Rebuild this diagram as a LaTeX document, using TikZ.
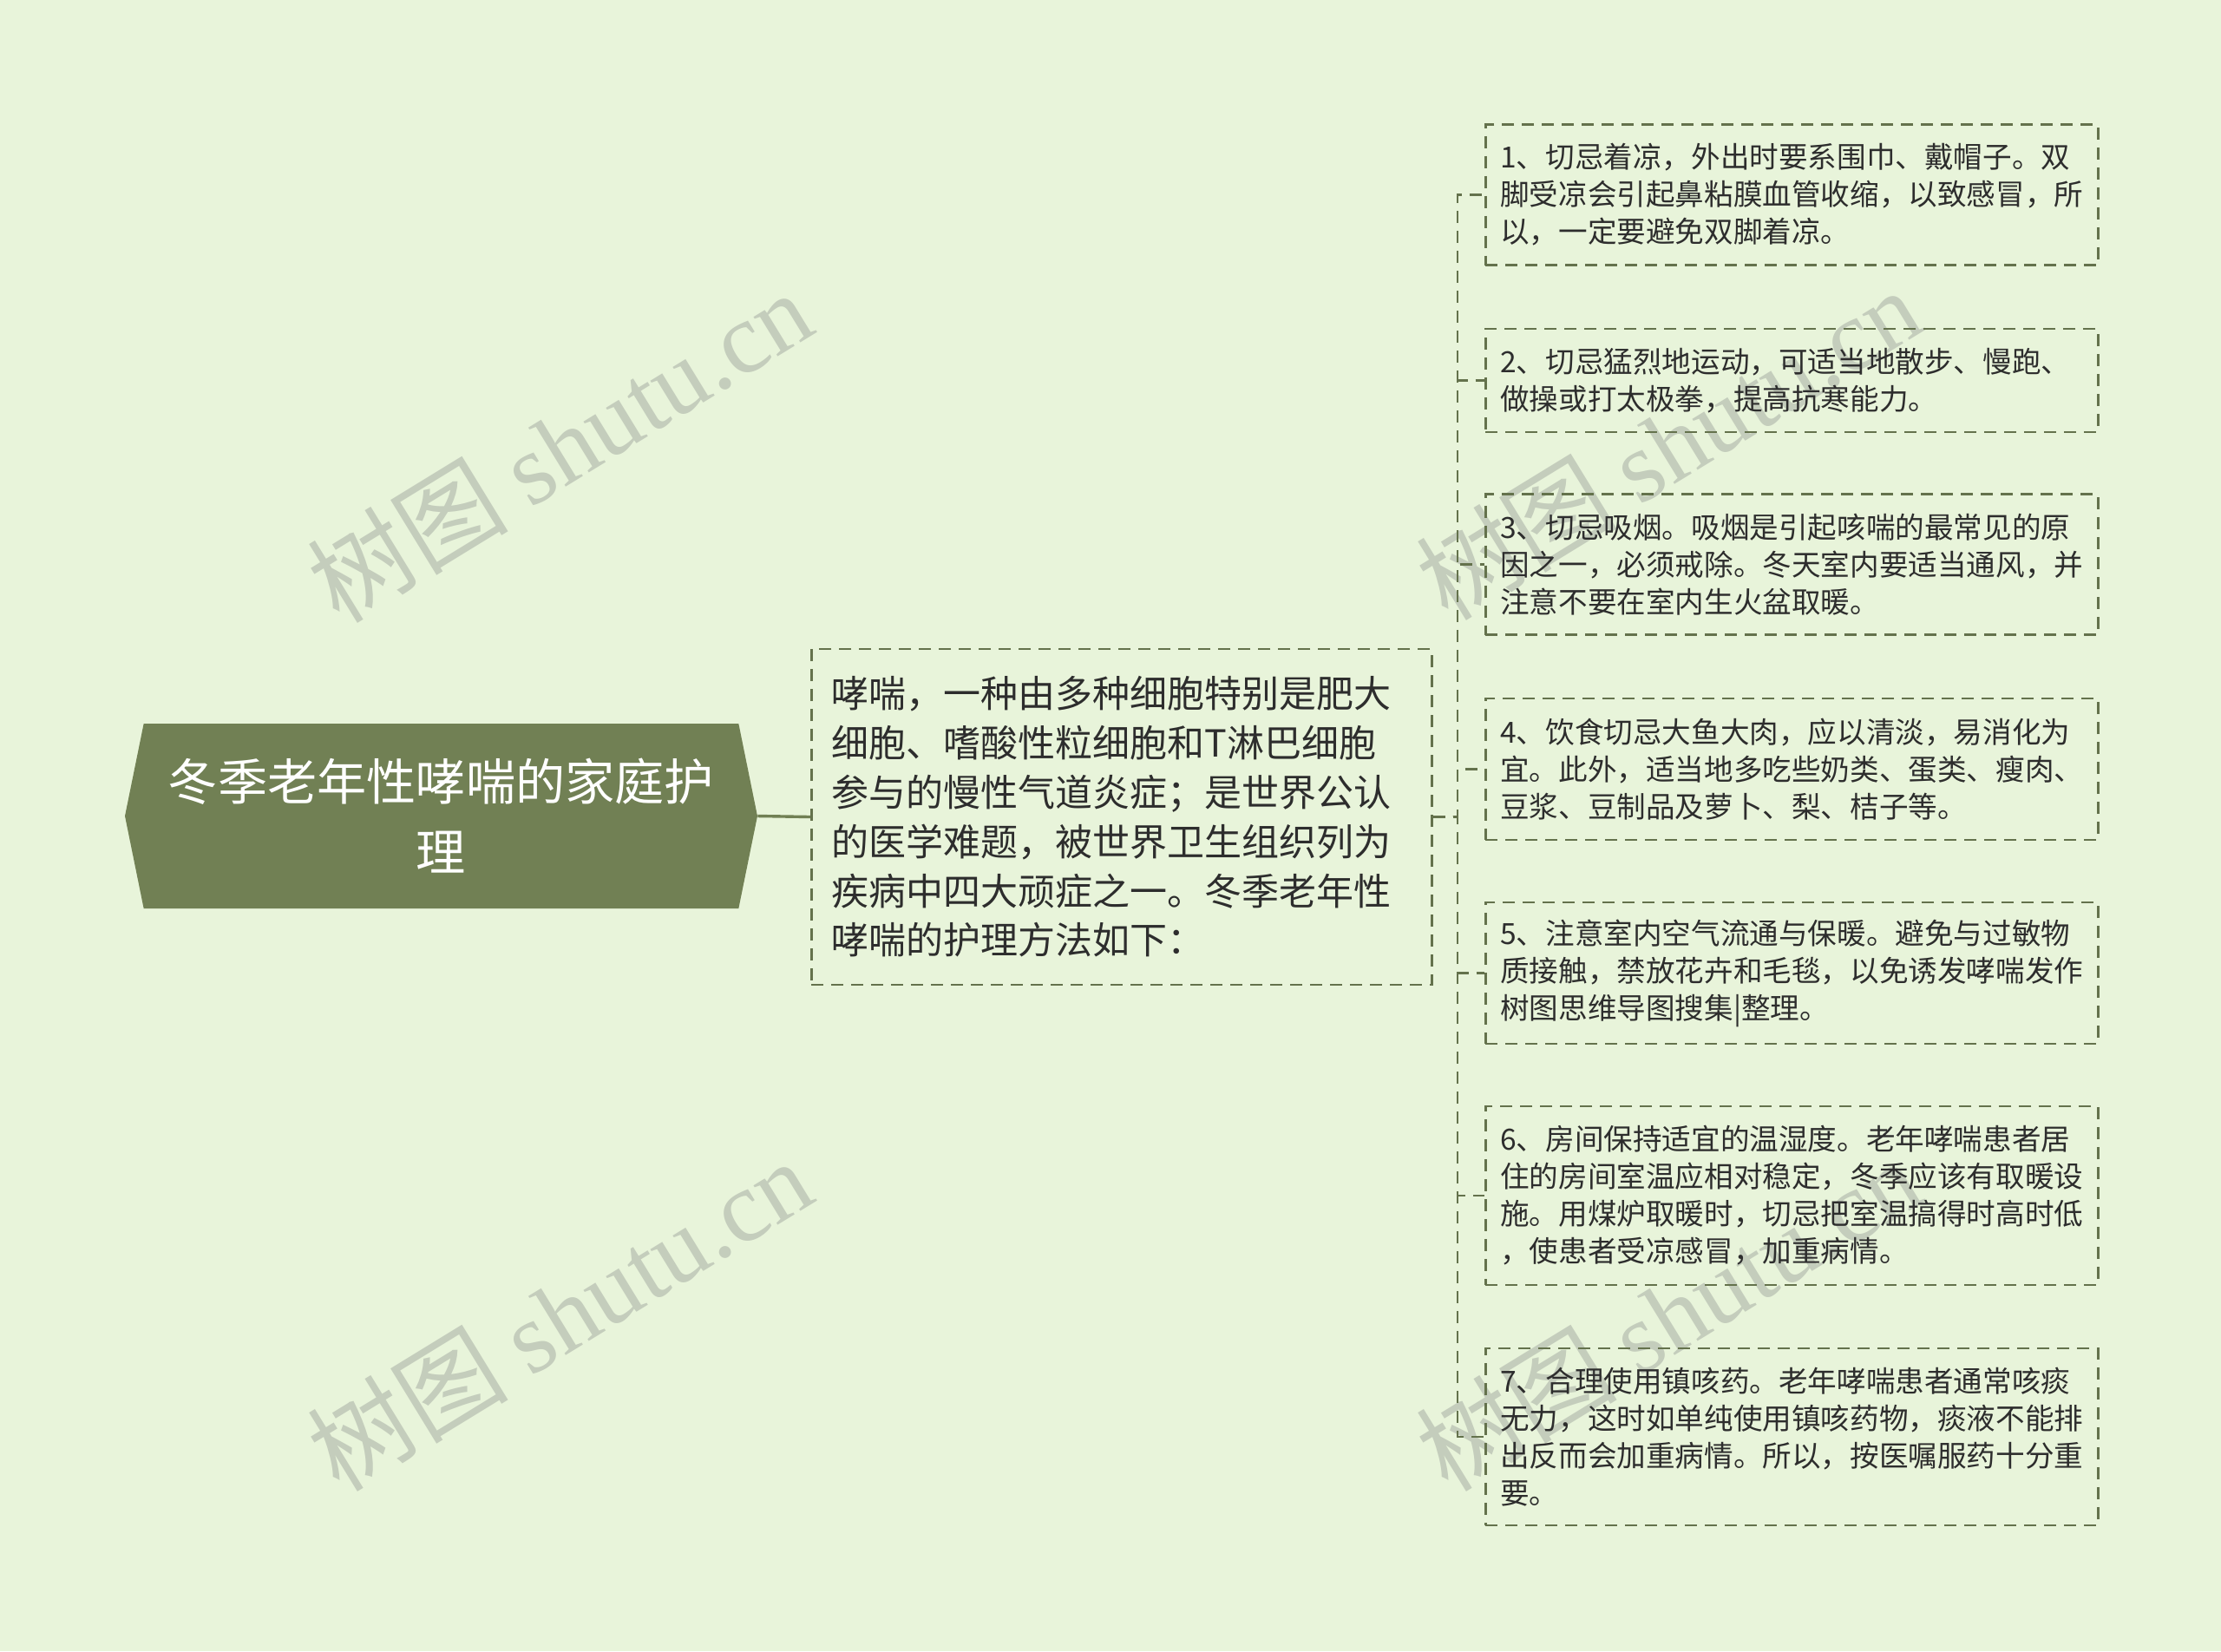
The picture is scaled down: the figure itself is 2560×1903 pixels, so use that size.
\documentclass[tikz,border=0pt]{standalone}
\usepackage{fontspec}
\newfontfamily\cjk{Noto Sans CJK SC}
\newfontfamily\wmserif{Liberation Serif}
\usetikzlibrary{shapes.symbols}
\definecolor{bgcol}{RGB}{232,244,218}
\definecolor{rootcol}{RGB}{113,128,84}
\definecolor{linecol}{RGB}{100,114,76}
\definecolor{txtcol}{RGB}{45,45,45}
\definecolor{markcol}{RGB}{196,205,188}

\begin{document}
\begin{tikzpicture}[x=0.5pt, y=-0.5pt,
  rootnode/.style={shape=signal, signal to=west and east, signal pointer angle=157,
    fill=rootcol, text=white, align=center, minimum width=364.5pt, minimum height=106.5pt,
    inner sep=0pt, font=\cjk\fontsize{28.6}{40.5}\selectfont},
  dashbox/.style={draw=linecol, line width=1.3pt, dash pattern=on 7pt off 4.5pt,
    text=txtcol, align=left, anchor=west},
  midnode/.style={dashbox, text width=334.5pt, inner xsep=11.5pt, minimum height=193.5pt,
    font=\cjk\fontsize{21.5}{28.4}\selectfont},
  tipnode/.style={dashbox, text width=336pt, inner xsep=8.5pt,
    font=\cjk\fontsize{16.8}{21.5}\selectfont},
  link/.style={draw=linecol, line width=1.3pt, dash pattern=on 7pt off 4.5pt},
  wmark/.style={text=markcol, rotate=31.5, font=\cjk\fontsize{58}{60}\selectfont}]

\useasboundingbox[fill=bgcol] (0,0) rectangle (2560,1903);

\node[wmark] (wm1) at (645,514) {树图 \wmserif shutu.cn};
\node[wmark] (wm2) at (1923,511) {树图 \wmserif shutu.cn};
\node[wmark] (wm3) at (645,1515) {树图 \wmserif shutu.cn};
\node[wmark] (wm4) at (1923,1515) {树图 \wmserif shutu.cn};

\node[rootnode] (root) at (508.5,940.5) {冬季老年性哮喘的家庭护\\理};

\node[midnode] (mid) at (934,941.5) {哮喘，一种由多种细胞特别是肥大\\细胞、嗜酸性粒细胞和T淋巴细胞\\参与的慢性气道炎症；是世界公认\\的医学难题，被世界卫生组织列为\\疾病中四大顽症之一。冬季老年性\\哮喘的护理方法如下：};

\node[tipnode, minimum height=81pt] (b1) at (1711,224.5) {1、切忌着凉，外出时要系围巾、戴帽子。双\\脚受凉会引起鼻粘膜血管收缩，以致感冒，所\\以，一定要避免双脚着凉。};
\node[tipnode, minimum height=59.5pt] (b2) at (1711,438.5) {2、切忌猛烈地运动，可适当地散步、慢跑、\\做操或打太极拳，提高抗寒能力。};
\node[tipnode, minimum height=81pt] (b3) at (1711,650.5) {3、切忌吸烟。吸烟是引起咳喘的最常见的原\\因之一，必须戒除。冬天室内要适当通风，并\\注意不要在室内生火盆取暖。};
\node[tipnode, minimum height=81.5pt] (b4) at (1711,886.5) {4、饮食切忌大鱼大肉，应以清淡，易消化为\\宜。此外，适当地多吃些奶类、蛋类、瘦肉、\\豆浆、豆制品及萝卜、梨、桔子等。};
\node[tipnode, minimum height=81.5pt] (b5) at (1711,1121.5) {5、注意室内空气流通与保暖。避免与过敏物\\质接触，禁放花卉和毛毯，以免诱发哮喘发作\\树图思维导图搜集|整理。};
\node[tipnode, minimum height=103pt] (b6) at (1711,1378) {6、房间保持适宜的温湿度。老年哮喘患者居\\住的房间室温应相对稳定，冬季应该有取暖设\\施。用煤炉取暖时，切忌把室温搞得时高时低\\，使患者受凉感冒，加重病情。};
\node[tipnode, minimum height=102pt] (b7) at (1711,1656) {7、合理使用镇咳药。老年哮喘患者通常咳痰\\无力，这时如单纯使用镇咳药物，痰液不能排\\出反而会加重病情。所以，按医嘱服药十分重\\要。};

\coordinate (bus) at (1680,941.5);

\draw[draw=rootcol, line width=1.7pt] (root.east) -- (mid.west);
\foreach \i in {1,...,7}
  \draw[link] (mid.east) -- (bus) |- (b\i.west);
\end{tikzpicture}
\end{document}
